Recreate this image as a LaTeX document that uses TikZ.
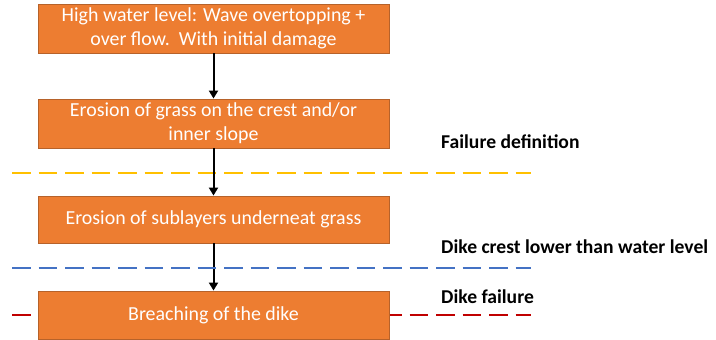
\documentclass[tikz,border=0pt]{standalone}
\usepackage{fontspec}
\setmainfont{Carlito}
\usetikzlibrary{arrows.meta}
\definecolor{boxfill}{HTML}{ED7D31}
\definecolor{boxedge}{HTML}{B6622A}
\definecolor{lvlyellow}{HTML}{FFC000}
\definecolor{lvlblue}{HTML}{4472C4}
\definecolor{lvlred}{HTML}{C00000}
\begin{document}
\begin{tikzpicture}[x=1pt,y=-1pt,
  stage/.style={draw=boxedge, line width=0.9pt, fill=boxfill, text=white,
    minimum width=351pt, inner sep=0pt, align=center,
    font=\fontsize{19.9}{24}\selectfont},
  level/.style={line width=2.6pt, dash pattern=on 18.5pt off 8pt},
  levellabel/.style={anchor=base west, inner sep=0pt,
    font=\bfseries\fontsize{19.6}{22}\selectfont},
  flow/.style={-{Triangle[length=8pt,width=9pt]}, line width=2pt, black}]
\useasboundingbox (0,0) rectangle (716,340);

% level lines
\coordinate (y0) at (12,173);  \coordinate (y1) at (531,173);
\coordinate (b0) at (12,268);  \coordinate (b1) at (531,268);
\coordinate (r0) at (12,315);  \coordinate (r1) at (531,315);
\draw[level, lvlyellow] (y0) -- (y1);
\draw[level, lvlred] (r0) -- (r1);

% process stages
\node[stage, minimum height=49pt] (s1) at (213.5,28.5)
  {High water level: Wave overtopping +\\over flow.\ \ With initial damage};
\node[stage, minimum height=49pt] (s2) at (213.5,123.5)
  {Erosion of grass on the crest and/or\\inner slope};
\node[stage, minimum height=47pt] (s3) at (213.5,219.5)
  {Erosion of sublayers underneat grass};
\node[stage, minimum height=48pt] (s4) at (213.5,315)
  {Breaching of the dike};

\draw[flow] (s1) -- (s2);
\draw[flow] (s2) -- (s3);
\draw[flow] (s3) -- (s4);
\draw[level, lvlblue] (b0) -- (b1);

% level labels
\node[levellabel] (l1) at (441,148) {Failure definition};
\node[levellabel] (l2) at (441,253) {Dike crest lower than water level};
\node[levellabel] (l3) at (441,303) {Dike failure};
\end{tikzpicture}
\end{document}
